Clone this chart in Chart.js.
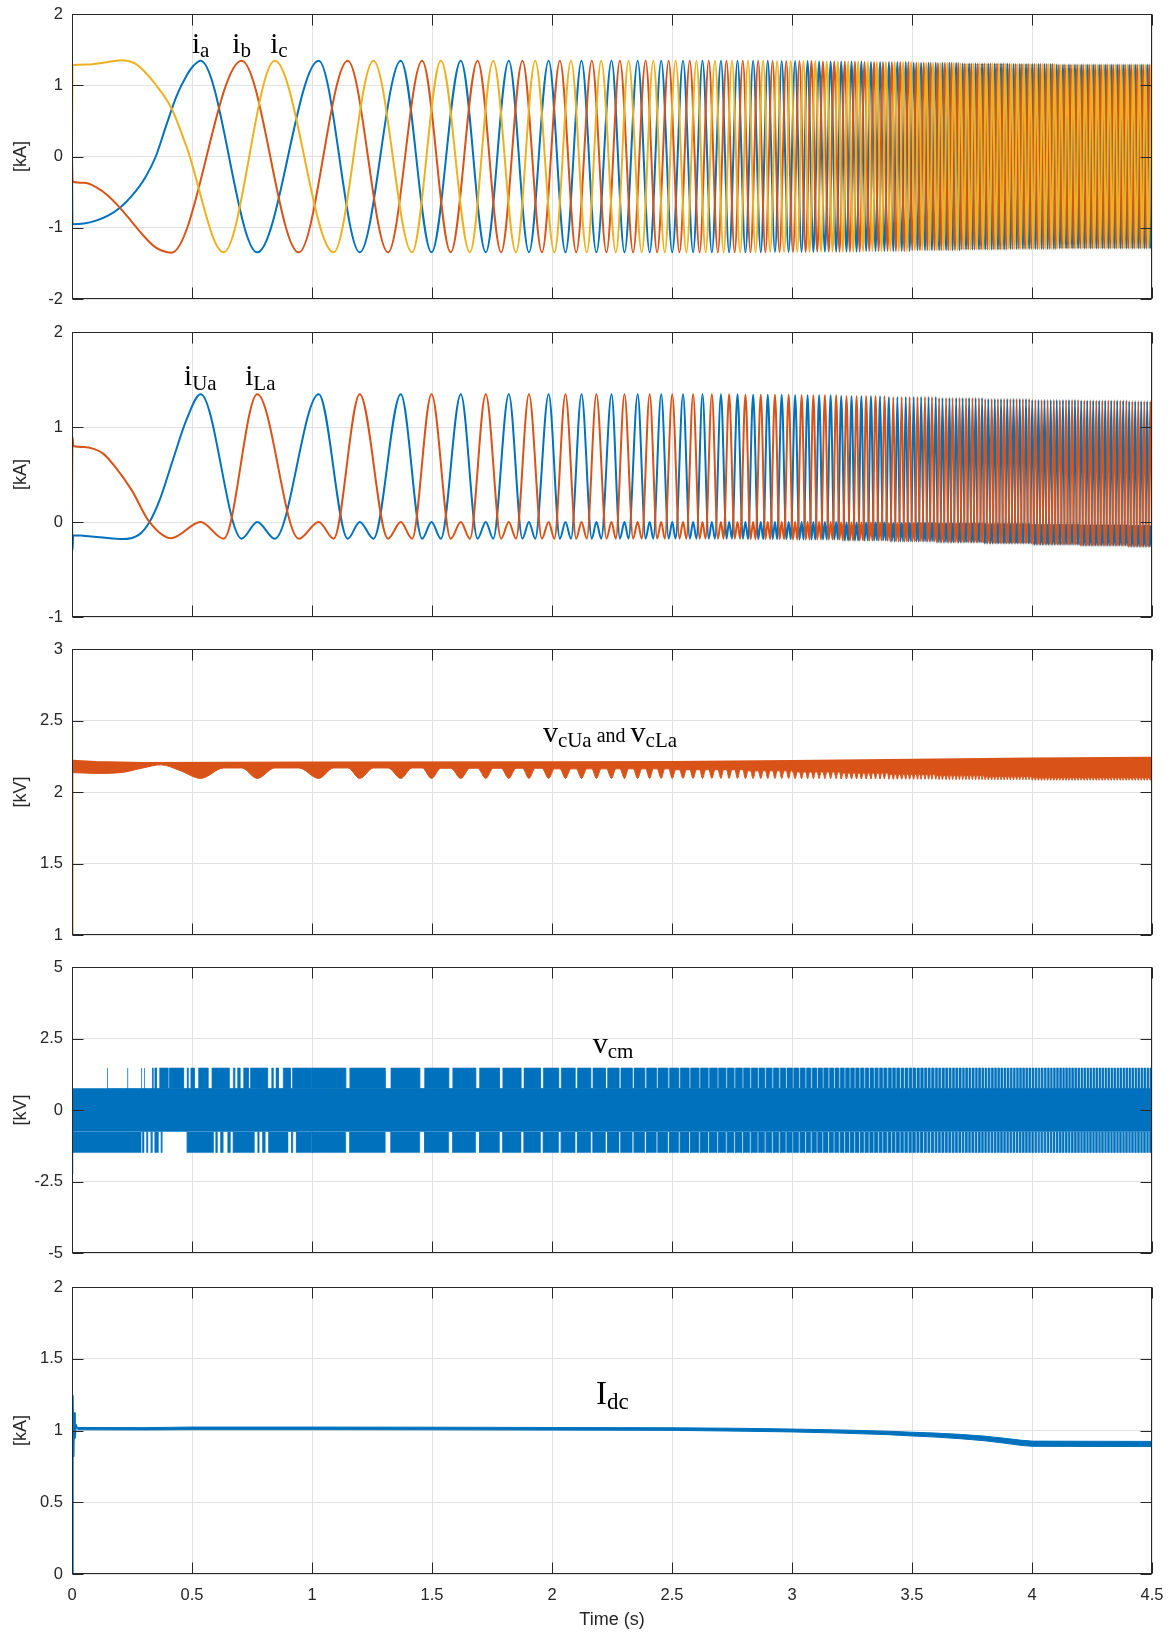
<!DOCTYPE html>
<html>
<head>
<meta charset="utf-8">
<title>Converter start-up waveforms</title>
<script src="https://cdn.jsdelivr.net/npm/chart.js@4.4.1/dist/chart.umd.min.js"></script>
<style>
html,body{margin:0;padding:0;background:#ffffff;}
#wrap{position:relative;width:1172px;height:1634px;overflow:hidden;background:#fff;}
#wrap canvas{position:absolute;left:0;}
</style>
</head>
<body>
<div id="wrap"></div>
<script>
// ======================= DATA =======================
const timeTicks = [0, 0.5, 1, 1.5, 2, 2.5, 3, 3.5, 4, 4.5];
const ticksIabc = [-2, -1, 0, 1, 2];
const ticksArm  = [-1, 0, 1, 2];
const ticksVc   = [1, 1.5, 2, 2.5, 3];
const ticksVcm  = [-5, -2.5, 0, 2.5, 5];
const ticksIdc  = [0, 0.5, 1, 1.5, 2];

// Times (s) of successive current extrema, one row per cycle of i_a:
// [ia max, ic min, ib max, ia min, ic max, ib min]
const extremaRows = [
  [0.536,0.632,0.707,0.772,0.845,0.945],
  [1.028,1.090,1.149,1.199,1.256,1.317],
  [1.370,1.417,1.459,1.498,1.537,1.578],
  [1.620,1.658,1.690,1.724,1.755,1.788],
  [1.820,1.850,1.877,1.904,1.930,1.958],
  [1.986,2.010,2.033,2.056,2.079,2.101],
  [2.123,2.145,2.166,2.185,2.205,2.227],
  [2.248,2.266,2.283,2.302,2.319,2.338],
  [2.357,2.374,2.390,2.407,2.422,2.438],
  [2.455,2.470,2.486,2.501,2.515,2.531],
  [2.546,2.560,2.574,2.588,2.602,2.615],
  [2.627,2.640,2.653,2.666,2.679,2.691],
  [2.704,2.715,2.727,2.738,2.750,2.761],
  [2.773,2.784,2.795,2.806,2.817,2.827],
  [2.838,2.848,2.859,2.870,2.880,2.889],
  [2.899,2.909,2.919,2.929,2.938,2.948],
  [2.957,2.967,2.976,2.986,2.995,3.004],
  [3.013,3.022,3.031,3.040,3.048,3.057],
  [3.065,3.073,3.081,3.089,3.097,3.105],
  [3.113,3.121,3.129,3.137,3.145,3.153],
  [3.161,3.169,3.176,3.184,3.191,3.198],
  [3.205,3.212,3.220,3.227,3.234,3.241],
  [3.248,3.255,3.262,3.269,3.276,3.282],
  [3.289,3.296,3.302,3.309,3.316,3.322],
  [3.329,3.335,3.342,3.348,3.354,3.361],
  [3.367,3.373,3.379,3.385,3.391,3.398],
  [3.404,3.410,3.416,3.422,3.428,3.433],
  [3.439,3.445,3.451,3.457,3.463,3.468],
  [3.474,3.479,3.485,3.490,3.496,3.501],
  [3.507,3.512,3.518,3.523,3.528,3.533],
  [3.538,3.543,3.549,3.554,3.559,3.564],
  [3.569,3.574,3.578,3.583,3.588,3.594],
  [3.599,3.604,3.608,3.613,3.618,3.622],
  [3.627,3.632,3.637,3.642,3.647,3.651],
  [3.656,3.660,3.665,3.669,3.674,3.679],
  [3.684,3.689,3.693,3.698,3.702,3.707],
  [3.711,3.716,3.720,3.725,3.729,3.734],
  [3.738,3.743,3.747,3.752,3.756,3.761],
  [3.765,3.770,3.774,3.779,3.783,3.788],
  [3.792,3.796,3.801,3.805,3.809,3.814],
  [3.818,3.823,3.827,3.832,3.836,3.841],
  [3.845,3.849,3.854,3.858,3.862,3.867],
  [3.871,3.875,3.880,3.884,3.888,3.893],
  [3.897,3.901,3.906,3.910,3.914,3.919],
  [3.923,3.927,3.932,3.936,3.940,3.945],
  [3.949,3.953,3.958,3.962,3.966,3.971],
  [3.975,3.979,3.984,3.988,3.992,3.997],
  [4.001,4.005,4.010,4.014,4.018,4.023],
  [4.027,4.031,4.035,4.040,4.044,4.048],
  [4.052,4.056,4.061,4.065,4.069,4.074],
  [4.078,4.082,4.086,4.091,4.095,4.099],
  [4.103,4.107,4.112,4.116,4.120,4.125],
  [4.129,4.133,4.137,4.142,4.146,4.150],
  [4.154,4.158,4.162,4.167,4.171,4.175],
  [4.179,4.183,4.188,4.192,4.196,4.201],
  [4.205,4.209,4.213,4.218,4.222,4.226],
  [4.230,4.234,4.238,4.243,4.247,4.251],
  [4.255,4.259,4.263,4.268,4.272,4.276],
  [4.280,4.284,4.288,4.293,4.297,4.301],
  [4.305,4.309,4.313,4.318,4.322,4.326],
  [4.330,4.334,4.338,4.343,4.347,4.351],
  [4.355,4.359,4.363,4.368,4.372,4.376],
  [4.380,4.384,4.388,4.393,4.397,4.401],
  [4.405,4.409,4.413,4.418,4.422,4.426],
  [4.430,4.434,4.438,4.443,4.447,4.451],
  [4.455,4.459,4.463,4.468,4.472,4.476],
  [4.480,4.484,4.488,4.493,4.497,4.500]
];

// Panel 1: phase-current start-up (before the regular sequence) [kA]
const iaEarlyT = [0, 0.002, 0.05, 0.10, 0.15, 0.20, 0.25, 0.306, 0.349, 0.393, 0.436, 0.48, 0.505];
const iaEarlyV = [0, -0.95, -0.94, -0.90, -0.83, -0.72, -0.55, -0.29, 0.0, 0.44, 0.85, 1.15, 1.27];
const ibEarlyT = [0, 0.002, 0.05, 0.10, 0.15, 0.20, 0.25, 0.30, 0.35, 0.414];
const ibEarlyV = [0, -0.35, -0.37, -0.43, -0.55, -0.72, -0.92, -1.12, -1.28, -1.35];
const icEarlyT = [0, 0.002, 0.06, 0.115, 0.21, 0.26, 0.30, 0.351, 0.414, 0.476];
const icEarlyV = [0, 1.28, 1.29, 1.31, 1.35, 1.31, 1.20, 1.00, 0.68, 0.15];
// peak amplitude of the phase currents vs time [kA]
const ampT = [0, 2.9, 3.1, 3.3, 3.5, 3.7, 3.9, 4.1];
const ampV = [1.345, 1.34, 1.335, 1.325, 1.315, 1.305, 1.298, 1.29];

// Panel 2: arm currents [kA]
const iUaEarlyT = [0, 0.002, 0.005, 0.115, 0.21, 0.281, 0.323, 0.365, 0.42, 0.476];
const iUaEarlyV = [0.08, -0.30, -0.14, -0.16, -0.18, -0.13, 0.0, 0.23, 0.65, 1.07];
const iLaEarlyT = [0, 0.002, 0.006, 0.05, 0.09, 0.13, 0.18, 0.25, 0.32, 0.414];
const iLaEarlyV = [0, 0.90, 0.80, 0.79, 0.77, 0.72, 0.58, 0.33, 0.01, -0.17];
const armLevelT = [0, 2.8, 3.0, 3.2, 3.4, 3.6, 3.8, 4.0, 4.2, 4.4];
const armHigh   = [1.345, 1.34, 1.335, 1.325, 1.315, 1.305, 1.295, 1.285, 1.278, 1.272];
const armLow    = [-0.175, -0.18, -0.185, -0.195, -0.205, -0.215, -0.225, -0.24, -0.25, -0.26];
const armMid    = [0.0, 0.0, 0.0, -0.005, -0.01, -0.015, -0.02, -0.03, -0.035, -0.04];

// Panel 3: capacitor voltage band [kV]
const vcUpT  = [0, 0.002, 0.1, 0.3, 1.0, 2.0, 2.5, 3.0, 3.5, 4.0, 4.5];
const vcUpV  = [1.0, 2.22, 2.212, 2.205, 2.208, 2.21, 2.212, 2.218, 2.228, 2.236, 2.242];
const vcLowEarlyT = [0, 0.002, 0.1, 0.2, 0.3, 0.37, 0.45];
const vcLowEarlyV = [1.0, 2.135, 2.13, 2.135, 2.17, 2.19, 2.15];
const vcLevelT = [0, 1.5, 2.0, 2.5, 2.8, 3.0, 3.2, 3.4, 3.6, 3.8, 4.0];
const vcDip    = [2.095, 2.095, 2.095, 2.095, 2.094, 2.093, 2.091, 2.089, 2.087, 2.085, 2.082];
const vcArch   = [2.168, 2.166, 2.162, 2.156, 2.148, 2.140, 2.132, 2.124, 2.115, 2.107, 2.10];
const vcSpikeT = [0, 0.001, 0.003];
const vcSpikeV = [1.0, 2.46, 2.22];

// Panel 4: common-mode voltage levels [kV]
const vcmOuterHigh = 1.47, vcmInnerHigh = 0.74, vcmInnerLow = -0.75, vcmOuterLow = -1.49;
const vcmTopOnEarly = [[0.146,0.149],[0.230,0.233],[0.288,0.291],[0.300,0.303],[0.335,0.338],[0.345,0.352],
  [0.365,0.400],[0.405,0.465],[0.480,0.484],[0.495,0.510],[0.527,0.567],[0.583,0.655],[0.672,0.678],
  [0.690,0.700],[0.715,0.735],[0.743,0.815],[0.832,0.838],[0.850,0.860],[0.880,0.910],[0.918,0.998]];
const vcmBotOnEarly = [[0.004,0.288],[0.295,0.300],[0.312,0.316],[0.330,0.335],[0.346,0.360],[0.372,0.376],
  [0.480,0.590],[0.600,0.606],[0.620,0.630],[0.650,0.660],[0.672,0.760],[0.775,0.780],[0.795,0.805],
  [0.820,0.900],[0.915,0.920],[0.935,0.998]];
const vcmNotchFrom = 1.0;
const vcmSpikeT = [0, 0.001, 0.003];
const vcmSpikeV = [0, -2.23, -0.75];

// Panel 5: dc current [kA]
const idcStartT = [0, 0.003, 0.006, 0.009, 0.012, 0.016, 0.022];
const idcStartV = [0, 1.24, 0.82, 1.12, 0.95, 1.04, 1.013];
const idcT    = [0.022, 0.3, 0.5, 1.0, 1.5, 2.0, 2.5, 2.8, 3.0, 3.2, 3.4, 3.5, 3.6, 3.7, 3.8, 3.88, 3.95, 4.0, 4.2, 4.5];
const idcV    = [1.013, 1.012, 1.015, 1.015, 1.014, 1.012, 1.010, 1.005, 1.000, 0.993, 0.983, 0.975, 0.968, 0.958, 0.945, 0.930, 0.915, 0.908, 0.907, 0.906];
const idcHalf = [0.008, 0.008, 0.009, 0.009, 0.009, 0.009, 0.009, 0.010, 0.010, 0.011, 0.012, 0.013, 0.014, 0.015, 0.016, 0.017, 0.018, 0.018, 0.018, 0.018];

// ======================= BUILD =======================
const C_BLUE = '#0072BD', C_RED = '#D95319', C_YEL = '#EDB120', C_GREEN = '#77AC30';
const AX = '#262626', GRID = '#e1e1e1';
const extremaT = extremaRows.flat();

function levelAt(T, V, t) { let k = 0; for (let i = 0; i < T.length; i++) if (t >= T[i]) k = i; return V[Math.min(k, V.length - 1)]; }
function pairs(T, V) { return T.map((t, i) => ({ x: t, y: V[i] })); }

function phaseWave(earlyT, earlyV, posType, negType) {
  const pts = pairs(earlyT, earlyV);
  extremaT.forEach((t, i) => {
    const k = i % 6, a = levelAt(ampT, ampV, t);
    if (k === posType) pts.push({ x: t, y: a });
    else if (k === negType) pts.push({ x: t, y: -a });
  });
  return pts;
}
function armWave(earlyT, earlyV, roles) {
  const pts = pairs(earlyT, earlyV);
  extremaT.forEach((t, i) => {
    const r = roles[i % 6];
    if (r === 'high') pts.push({ x: t, y: levelAt(armLevelT, armHigh, t) });
    else if (r === 'low') pts.push({ x: t, y: levelAt(armLevelT, armLow, t) });
    else if (r === 'mid') pts.push({ x: t, y: levelAt(armLevelT, armMid, t) });
  });
  return pts;
}
function vcLower() {
  const pts = pairs(vcLowEarlyT, vcLowEarlyV);
  extremaT.forEach((t, i) => {
    const k = i % 6;
    pts.push({ x: t, y: (k === 0 || k === 3) ? levelAt(vcLevelT, vcDip, t) : levelAt(vcLevelT, vcArch, t) });
  });
  return pts;
}
function vcmBlocks(earlyOn, outer, inner) {
  const pts = [];
  const add = (s, e) => { if (e > s) pts.push({ x: s, y: inner }, { x: s, y: outer }, { x: e, y: outer }, { x: e, y: inner }); };
  earlyOn.forEach(([s, e]) => add(s, e));
  const notches = extremaT.filter((t, i) => (i % 6 === 2 || i % 6 === 5) && t > vcmNotchFrom);
  let start = vcmNotchFrom;
  notches.forEach((t, i) => {
    const spacing = i > 0 ? t - notches[i - 1] : 0.12;
    const hw = Math.max(0.07 * spacing, 0.0029);
    add(start, t - hw);
    start = t + hw;
  });
  add(start, 4.5);
  return pts;
}

// ---------- layout of the five axes (pixel boxes) ----------
const PLOTS = [
  { top: 14, bottom: 299 }, { top: 332, bottom: 617 }, { top: 649, bottom: 935 },
  { top: 967, bottom: 1253 }, { top: 1287, bottom: 1574 }
];
const PAD = 14, LEFTW = 72, RIGHTPAD = 20;

const frame = {
  id: 'frame',
  afterDraw(chart) {
    const { ctx, chartArea: a, scales: { x, y } } = chart;
    const L = Math.round(a.left) + 0.5, R = Math.round(a.right) - 0.5;
    const T = Math.round(a.top) + 0.5, B = Math.round(a.bottom) - 0.5;
    const TL = 11;
    ctx.save();
    ctx.strokeStyle = AX; ctx.lineWidth = 1;
    ctx.beginPath();
    x.ticks.forEach(tk => {
      const p = Math.round(x.getPixelForValue(tk.value)) + 0.5;
      ctx.moveTo(p, B); ctx.lineTo(p, B - TL); ctx.moveTo(p, T); ctx.lineTo(p, T + TL);
    });
    y.ticks.forEach(tk => {
      const p = Math.round(y.getPixelForValue(tk.value)) + 0.5;
      ctx.moveTo(L, p); ctx.lineTo(L + TL, p); ctx.moveTo(R, p); ctx.lineTo(R - TL, p);
    });
    ctx.stroke();
    ctx.strokeRect(L, T, R - L, B - T);
    ctx.restore();
  }
};

const labels = {
  id: 'labels',
  afterDatasetsDraw(chart, args, opts) {
    const items = opts.items || [];
    const { ctx, scales: { x, y } } = chart;
    ctx.save();
    ctx.fillStyle = '#000';
    ctx.textBaseline = 'alphabetic';
    items.forEach(it => {
      let px = x.getPixelForValue(it.t);
      const py = y.getPixelForValue(it.v);
      it.parts.forEach(p => {
        ctx.font = p.size + 'px "Liberation Serif", "Times New Roman", serif';
        ctx.fillText(p.s, px, py + (p.dy || 0));
        px += ctx.measureText(p.s).width + (p.gap || 0);
      });
    });
    ctx.restore();
  }
};

function makeChart(idx, cfg) {
  const P = PLOTS[idx];
  const last = idx === 4;
  const h = P.bottom - P.top;
  const canvasTop = P.top - PAD;
  const xH = last ? 1634 - (P.bottom) : 0;
  const canvasH = last ? 1634 - canvasTop : PAD + h + PAD;
  const cv = document.createElement('canvas');
  cv.width = 1172; cv.height = canvasH;
  cv.style.top = canvasTop + 'px';
  cv.style.width = '1172px'; cv.style.height = canvasH + 'px';
  document.getElementById('wrap').appendChild(cv);
  const chart = new Chart(cv, {
    type: 'line',
    data: { datasets: cfg.datasets },
    options: {
      responsive: false, animation: false, devicePixelRatio: 1,
      events: [],
      layout: { autoPadding: false, padding: { top: PAD, bottom: last ? 0 : PAD, left: 0, right: RIGHTPAD } },
      elements: { point: { radius: 0, hoverRadius: 0 }, line: { borderJoinStyle: 'round' } },
      plugins: { legend: { display: false }, tooltip: { enabled: false }, labels: { items: cfg.labels || [] } },
      scales: {
        x: {
          type: 'linear', min: 0, max: 4.5,
          afterBuildTicks: s => { s.ticks = timeTicks.map(v => ({ value: v })); },
          afterFit: s => { s.height = xH; s.paddingLeft = 0; s.paddingRight = 0; },
          grid: { color: GRID, lineWidth: 1, drawTicks: false },
          border: { display: false },
          ticks: { display: last, color: AX, padding: 12, maxRotation: 0, autoSkip: false,
                   font: { size: 16.5, family: '"Liberation Sans", Arial, sans-serif' },
                   callback: v => String(v) },
          title: { display: last, text: 'Time (s)', color: AX, padding: { top: 0, bottom: 3 },
                   font: { size: 18, family: '"Liberation Sans", Arial, sans-serif' } }
        },
        y: {
          type: 'linear', min: cfg.min, max: cfg.max,
          afterBuildTicks: s => { s.ticks = cfg.ticks.map(v => ({ value: v })); },
          afterFit: s => { s.width = LEFTW; s.paddingTop = 0; s.paddingBottom = 0; },
          grid: { color: GRID, lineWidth: 1, drawTicks: false },
          border: { display: false },
          ticks: { color: AX, padding: 9, autoSkip: false,
                   font: { size: 16.5, family: '"Liberation Sans", Arial, sans-serif' },
                   callback: v => String(v) },
          title: { display: true, text: cfg.unit, color: AX, padding: { top: 10, bottom: 0 },
                   font: { size: 18, family: '"Liberation Sans", Arial, sans-serif' } }
        }
      }
    },
    plugins: [frame, labels]
  });
  const shift = Math.round(chart.chartArea.top) - PAD;
  if (shift !== 0) cv.style.top = (canvasTop - shift) + 'px';
  return chart;
}

const waveStyle = (color, order) => ({ borderColor: color, borderWidth: 2, fill: false, order,
  cubicInterpolationMode: 'monotone', pointRadius: 0 });

const BIG = 29, SUB = 21;

// Panel 1: ia, ib, ic
makeChart(0, {
  min: -2, max: 2, ticks: ticksIabc, unit: '[kA]',
  datasets: [
    Object.assign({ label: 'ia', data: phaseWave(iaEarlyT, iaEarlyV, 0, 3) }, waveStyle(C_BLUE, 3)),
    Object.assign({ label: 'ib', data: phaseWave(ibEarlyT, ibEarlyV, 2, 5) }, waveStyle(C_RED, 2)),
    Object.assign({ label: 'ic', data: phaseWave(icEarlyT, icEarlyV, 4, 1) }, waveStyle(C_YEL, 1))
  ],
  labels: [
    { t: 0.500, v: 1.455, parts: [{ s: 'i', size: BIG }, { s: 'a', size: SUB, dy: 4 }] },
    { t: 0.668, v: 1.455, parts: [{ s: 'i', size: BIG }, { s: 'b', size: SUB, dy: 4 }] },
    { t: 0.826, v: 1.455, parts: [{ s: 'i', size: BIG }, { s: 'c', size: SUB, dy: 4 }] }
  ]
});

// Panel 2: iUa, iLa
makeChart(1, {
  min: -1, max: 2, ticks: ticksArm, unit: '[kA]',
  datasets: [
    Object.assign({ label: 'iUa', data: armWave(iUaEarlyT, iUaEarlyV, { 0: 'high', 2: 'low', 3: 'mid', 4: 'low' }) }, waveStyle(C_BLUE, 2)),
    Object.assign({ label: 'iLa', data: armWave(iLaEarlyT, iLaEarlyV, { 0: 'mid', 1: 'low', 3: 'high', 5: 'low' }) }, waveStyle(C_RED, 1))
  ],
  labels: [
    { t: 0.467, v: 1.443, parts: [{ s: 'i', size: BIG }, { s: 'Ua', size: SUB, dy: 5 }] },
    { t: 0.722, v: 1.443, parts: [{ s: 'i', size: BIG }, { s: 'La', size: SUB, dy: 5 }] }
  ]
});

// Panel 3: capacitor voltages
makeChart(2, {
  min: 1, max: 3, ticks: ticksVc, unit: '[kV]',
  datasets: [
    { label: 'vc low', data: vcLower(), borderColor: C_RED, borderWidth: 1, backgroundColor: C_RED,
      fill: false, cubicInterpolationMode: 'monotone', order: 2 },
    { label: 'vc high', data: pairs(vcUpT, vcUpV), borderColor: C_RED, borderWidth: 1.5, backgroundColor: C_RED,
      fill: '-1', order: 2 },
    { label: 'spike', data: pairs(vcSpikeT, vcSpikeV), borderColor: C_GREEN, borderWidth: 1.5, fill: false, order: 3 }
  ],
  labels: [
    { t: 1.962, v: 2.352, parts: [{ s: 'v', size: 30 }, { s: 'cUa', size: SUB, dy: 5 }, { s: ' and ', size: 20 },
      { s: 'v', size: 30 }, { s: 'cLa', size: SUB, dy: 5 }] }
  ]
});

// Panel 4: common-mode voltage
makeChart(3, {
  min: -5, max: 5, ticks: ticksVcm, unit: '[kV]',
  datasets: [
    { label: 'core', data: [{ x: 0, y: vcmInnerHigh }, { x: 4.5, y: vcmInnerHigh }], borderColor: C_BLUE, borderWidth: 1,
      backgroundColor: C_BLUE, fill: { value: vcmInnerLow } },
    { label: 'top', data: vcmBlocks(vcmTopOnEarly, vcmOuterHigh, vcmInnerHigh), borderColor: C_BLUE, borderWidth: 0.5,
      backgroundColor: C_BLUE, fill: { value: vcmInnerHigh } },
    { label: 'bottom', data: vcmBlocks(vcmBotOnEarly, vcmOuterLow, vcmInnerLow), borderColor: C_BLUE, borderWidth: 0.5,
      backgroundColor: C_BLUE, fill: { value: vcmInnerLow } },
    { label: 'spike', data: pairs(vcmSpikeT, vcmSpikeV), borderColor: C_BLUE, borderWidth: 1.5, fill: false }
  ],
  labels: [
    { t: 2.17, v: 1.99, parts: [{ s: 'v', size: 30 }, { s: 'cm', size: SUB, dy: 5 }] }
  ]
});

// Panel 5: dc current
makeChart(4, {
  min: 0, max: 2, ticks: ticksIdc, unit: '[kA]',
  datasets: [
    { label: 'idc low', data: idcT.map((t, i) => ({ x: t, y: idcV[i] - idcHalf[i] })), borderColor: C_BLUE, borderWidth: 1,
      fill: false },
    { label: 'idc high', data: idcT.map((t, i) => ({ x: t, y: idcV[i] + idcHalf[i] })), borderColor: C_BLUE, borderWidth: 1,
      backgroundColor: C_BLUE, fill: '-1' },
    { label: 'idc start', data: pairs(idcStartT, idcStartV), borderColor: C_BLUE, borderWidth: 2, fill: false }
  ],
  labels: [
    { t: 2.183, v: 1.184, parts: [{ s: 'I', size: 33 }, { s: 'dc', size: 23, dy: 5 }] }
  ]
});
</script>
</body>
</html>
